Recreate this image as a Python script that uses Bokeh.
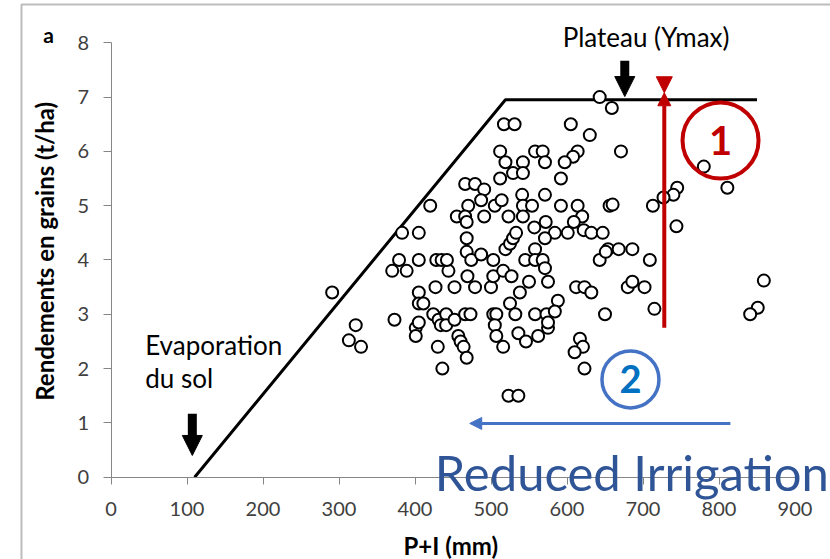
import math
from bokeh.plotting import figure
from bokeh.models import Range1d, Label, Arrow, NormalHead, BoxAnnotation, FixedTicker, ColumnDataSource
from bokeh.core.properties import value
from bokeh.embed import file_html
from bokeh.resources import INLINE

# ---- data ----
pi_mm = [291, 313, 322, 329, 373, 370, 389, 379, 405, 383, 405, 420, 401, 405, 401, 405, 405, 411,
         424, 431, 441, 434, 441, 452, 430, 436, 457, 460, 464, 468, 427, 452, 444, 428, 435, 442,
         466, 479, 491, 470, 487, 505, 514, 455, 466, 468, 491, 523, 468, 468, 474, 487, 503, 519,
         525, 469, 479, 500, 503, 516, 527, 466, 473, 503, 507, 505, 507, 516, 525, 523, 536, 512,
         519, 512, 517, 531, 529, 529,
         558, 568, 542, 571, 542, 592, 541, 571, 542, 554, 592, 614, 542, 572, 557, 533, 584, 601,
         571, 558, 545, 558, 568, 571, 550, 575, 538, 588, 532, 558, 573, 584, 575, 575, 536, 546, 562,
         605, 630, 614, 608, 597, 671, 643, 659, 620, 609, 622, 632, 647, 654, 668, 686, 709, 643,
         651, 656, 660, 713, 612, 623, 632, 680, 686, 702, 650, 715, 617, 621, 610, 623,
         780, 811, 745, 740, 727, 744, 859, 851, 841]
rendement = [3.4, 2.52, 2.8, 2.4, 2.9, 3.8, 3.8, 4.0, 4.0, 4.5, 4.5, 5.0, 2.75, 2.85, 2.6, 3.4, 3.2, 3.2,
             3.0, 2.9, 3.0, 2.8, 2.8, 2.9, 2.4, 2.0, 2.6, 2.5, 2.4, 2.2, 3.5, 3.5, 3.8, 4.0, 4.0, 4.0,
             5.4, 5.4, 5.3, 5.0, 5.1, 5.0, 5.1, 4.8, 4.8, 4.7, 4.8, 4.8, 4.4, 4.15, 4.0, 4.1, 4.0, 4.2,
             4.3, 3.7, 3.5, 3.5, 3.7, 3.8, 3.7, 3.0, 3.0, 3.0, 3.0, 2.8, 2.6, 2.4, 3.2, 1.5, 1.5, 6.0,
             5.8, 5.5, 6.5, 6.5, 4.4, 5.6,
             6.0, 6.0, 5.8, 5.8, 5.6, 5.5, 5.2, 5.2, 5.0, 5.0, 5.0, 5.0, 4.8, 4.7, 4.6, 4.5, 4.5, 4.5,
             4.4, 4.2, 4.0, 4.0, 4.0, 3.85, 3.6, 3.6, 3.4, 3.25, 3.0, 3.0, 3.0, 3.05, 2.75, 2.85, 2.65, 2.5, 2.6,
             6.5, 6.3, 6.0, 5.9, 5.8, 6.0, 7.0, 6.8, 4.8, 4.7, 4.55, 4.5, 4.5, 4.2, 4.2, 4.2, 4.0, 4.0,
             4.15, 5.0, 5.02, 5.0, 3.5, 3.5, 3.4, 3.5, 3.6, 3.5, 3.0, 3.1, 2.55, 2.4, 2.3, 2.0,
             5.72, 5.33, 5.33, 5.2, 5.15, 4.62, 3.62, 3.12, 3.0]
x_ticks = [0, 100, 200, 300, 400, 500, 600, 700, 800, 900]
y_ticks = [0, 1, 2, 3, 4, 5, 6, 7, 8]
boundary_x = [110, 519, 850]
boundary_y = [0, 6.95, 6.95]

FONT = "Lato"

# the frame spans the whole canvas; axes are pinned at 0 and bounded to the data extent
p = figure(width=830, height=559, output_backend="svg", toolbar_location=None,
           x_range=Range1d(-145.4, 946.7), y_range=Range1d(-1.516, 8.779),
           min_border=0)
p.outline_line_color = None
p.grid.visible = False
p.background_fill_color = "white"
p.border_fill_color = "white"

for ax, ticks, tout, stand, bnd in ((p.xaxis, x_ticks, 7, 18, (0, 900)),
                                     (p.yaxis, y_ticks, 8, 14, (0, 8))):
    ax.ticker = FixedTicker(ticks=ticks)
    ax.fixed_location = 0
    ax.bounds = bnd
    ax.minor_tick_line_color = None
    ax.major_tick_in = 0
    ax.major_tick_out = tout
    ax.axis_line_color = "#868686"
    ax.major_tick_line_color = "#868686"
    ax.axis_line_width = 1
    ax.major_label_text_font = FONT
    ax.major_label_text_font_size = "20px"
    ax.major_label_text_color = "#404040"
    ax.major_label_standoff = stand

# outer frame of the picture
p.add_layout(BoxAnnotation(left=-117.8, right=3000, top=8.705, bottom=-100,
                           fill_alpha=0, line_color="#222222", line_width=2))

# boundary line
p.line(boundary_x, boundary_y, line_color="black", line_width=3)

# scatter
src = ColumnDataSource(dict(x=pi_mm, y=rendement))
p.scatter("x", "y", source=src, marker="circle", size=12, fill_color="white",
          line_color="black", line_width=2)

# red double arrow (plateau)
red = "#C00000"
p.add_layout(Arrow(end=NormalHead(size=13, fill_color=red, line_color=red), line_color=red,
                   line_width=4, x_start=728, y_start=2.75, x_end=728, y_end=7.08))
p.add_layout(Arrow(end=NormalHead(size=16, fill_color=red, line_color=red), line_alpha=0,
                   x_start=728, y_start=7.42, x_end=728, y_end=7.08))
p.scatter([802], [6.2], marker="circle", size=76, fill_color=None, line_color=red, line_width=4)
p.text([802], [6.2], text=["1"], text_font=value(FONT), text_font_style="bold",
       text_font_size="40px", text_color=red, text_align="center", text_baseline="middle")

# blue
blue = "#4472C4"
p.add_layout(Arrow(end=NormalHead(size=12, fill_color=blue, line_color=blue), line_color=blue,
                   line_width=3, x_start=815, y_start=0.99, x_end=472, y_end=0.99))
p.scatter([683.5], [1.8], marker="circle", size=57, fill_color=None, line_color=blue, line_width=3.5)
p.text([683.5], [1.8], text=["2"], text_font=value(FONT), text_font_style="bold",
       text_font_size="38px", text_color="#0070C0", text_align="center", text_baseline="middle")
p.add_layout(Label(x=426, y=0.09, text="Reduced Irrigation", text_font=FONT, text_font_size="49px",
                   text_color="#2F5597", text_align="left", text_baseline="alphabetic"))

# black arrows
p.add_layout(Arrow(end=NormalHead(size=20, fill_color="black", line_color="black"), line_color="black",
                   line_width=9, x_start=676, y_start=7.67, x_end=676, y_end=7.01))
p.add_layout(Arrow(end=NormalHead(size=20, fill_color="black", line_color="black"), line_color="black",
                   line_width=9, x_start=107, y_start=1.17, x_end=107, y_end=0.40))

p.add_layout(Label(x=704, y=8.1, text="Plateau (Ymax)", text_font=FONT, text_font_size="26px",
                   text_color="black", text_align="center", text_baseline="middle"))
p.add_layout(Label(x=45, y=2.43, text="Evaporation", text_font=FONT, text_font_size="26px",
                   text_color="black", text_align="left", text_baseline="middle"))
p.add_layout(Label(x=45, y=1.82, text="du sol", text_font=FONT, text_font_size="26px",
                   text_color="black", text_align="left", text_baseline="middle"))
p.add_layout(Label(x=-82, y=8.15, text="a", text_font=FONT, text_font_size="21px", text_font_style="bold",
                   text_color="black", text_align="center", text_baseline="middle"))

# axis titles
p.add_layout(Label(x=-87.5, y=4.16, text="Rendements en grains (t/ha)", angle=math.pi / 2,
                   text_font=FONT, text_font_size="24px", text_font_style="bold",
                   text_color="black", text_align="center", text_baseline="middle"))
p.add_layout(Label(x=447, y=-1.26, text="P+I (mm)", text_font=FONT, text_font_size="24px",
                   text_font_style="bold", text_color="black", text_align="center", text_baseline="middle"))

open("out.html", "w").write(file_html(p, INLINE))
